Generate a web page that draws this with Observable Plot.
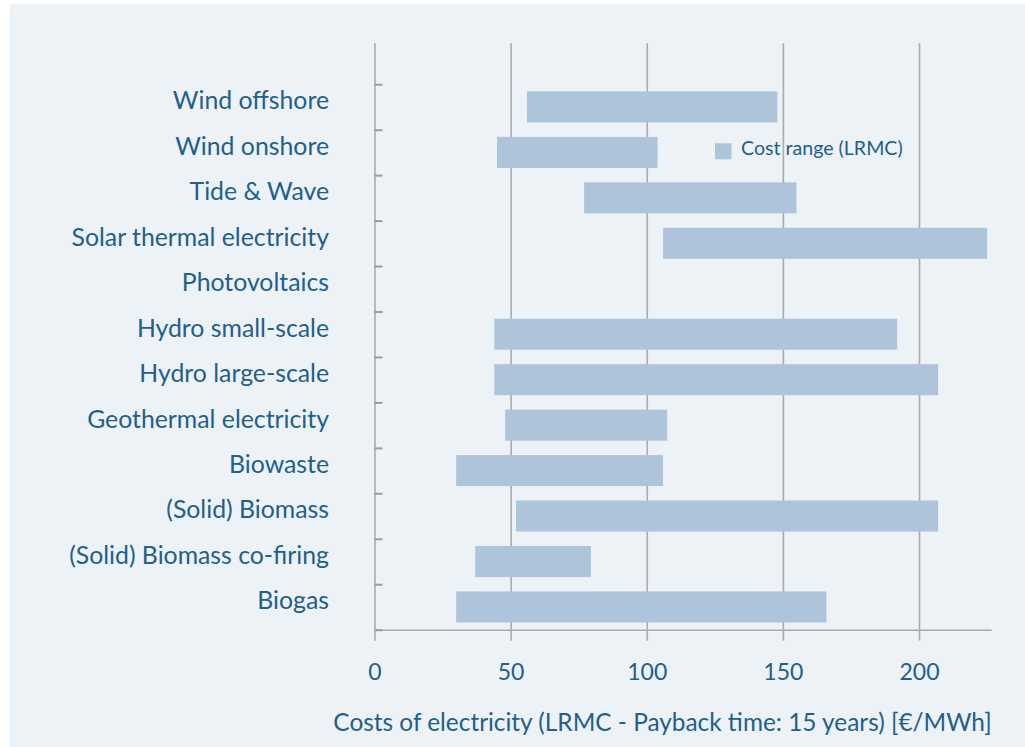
<!DOCTYPE html>
<html><head><meta charset="utf-8">
<script src="https://cdn.jsdelivr.net/npm/d3@7"></script>
<script src="https://cdn.jsdelivr.net/npm/@observablehq/plot@0.6"></script>
<style>
html,body{margin:0;padding:0;background:#fff;width:1025px;height:747px;overflow:hidden;}
#panel{position:absolute;left:10px;top:4px;width:1015px;height:743px;background:#edf2f7;}
#chart{position:absolute;left:0;top:0;}
</style></head><body>
<div id="panel"></div><div id="chart"></div>
<script>
// Technologies, top to bottom
const categories = [
  "Wind offshore", "Wind onshore", "Tide & Wave", "Solar thermal electricity",
  "Photovoltaics", "Hydro small-scale", "Hydro large-scale", "Geothermal electricity",
  "Biowaste", "(Solid) Biomass", "(Solid) Biomass co-firing", "Biogas"
];
// Cost range (LRMC) in €/MWh; Photovoltaics has no bar in the visible range
const costLow  = [56, 45, 77, 106, null, 44, 44, 48, 30, 52, 37, 30];
const costHigh = [148, 104, 155, 225, null, 192, 207, 107.5, 106, 207, 79.5, 166];
const xTicks = [0, 50, 100, 150, 200];
const legendLabel = "Cost range (LRMC)";
const xTitle = "Costs of electricity (LRMC - Payback time: 15 years) [€/MWh]";

const n = categories.length;
const rows = categories.map((c, i) => ({name: c, idx: n - i, lo: costLow[i], hi: costHigh[i]}));
const bars = rows.filter(d => d.lo != null);
const boundaries = d3.range(n + 1).map(i => i + 0.5);

const W = 1025, H = 747, mL = 374.5, mR = 33.3, mT = 43.3, mB = 117.3;
const textColor = "#21608c", barColor = "#aec4da", lineColor = "#ababab";
const font = "Lato, 'Open Sans', sans-serif";

const chart = Plot.plot({
  width: W, height: H,
  marginLeft: mL, marginRight: mR, marginTop: mT, marginBottom: mB,
  style: {background: "transparent", fontFamily: font, color: textColor, overflow: "visible"},
  x: {domain: [0, 226.7]},
  y: {domain: [0.5, 13.4]},
  marks: [
    Plot.ruleX(xTicks.slice(1), {stroke: lineColor, strokeWidth: 1.6}),
    Plot.ruleX([0], {stroke: lineColor, strokeWidth: 1.6}),
    Plot.ruleY([0.5], {stroke: lineColor, strokeWidth: 1.6}),
    Plot.ruleY(boundaries, {stroke: "#9c9c9c", strokeWidth: 2, insetRight: W - mL - mR - 8}),
    Plot.rect(bars, {x1: "lo", x2: "hi", y1: d => d.idx - 0.5, y2: d => d.idx + 0.5,
      insetTop: 7.2, insetBottom: 7.2, fill: barColor}),
    Plot.axisX({ticks: xTicks, tickSize: 11, tickPadding: 22, stroke: lineColor, strokeWidth: 1.6,
      fill: textColor, fontSize: 23, label: null}),
    Plot.axisY({ticks: rows.map(d => d.idx), tickFormat: i => categories[n - i], tickSize: 0,
      tickPadding: 46, fill: textColor, fontSize: 24.8, dy: -6, label: null})
  ]
});

const svg = d3.select(chart);
svg.append("rect").attr("x", 715).attr("y", 143.3).attr("width", 16.5).attr("height", 16)
  .attr("fill", barColor);
svg.append("text").attr("x", 741).attr("y", 155).attr("text-anchor", "start").attr("fill", textColor)
  .attr("font-family", font).attr("font-size", 19.6).text(legendLabel);
svg.append("text").attr("x", W - mR).attr("y", 731).attr("text-anchor", "end")
  .attr("fill", textColor).attr("font-family", font).attr("font-size", 24.4).text(xTitle);

document.getElementById("chart").appendChild(chart);
</script>
</body></html>
